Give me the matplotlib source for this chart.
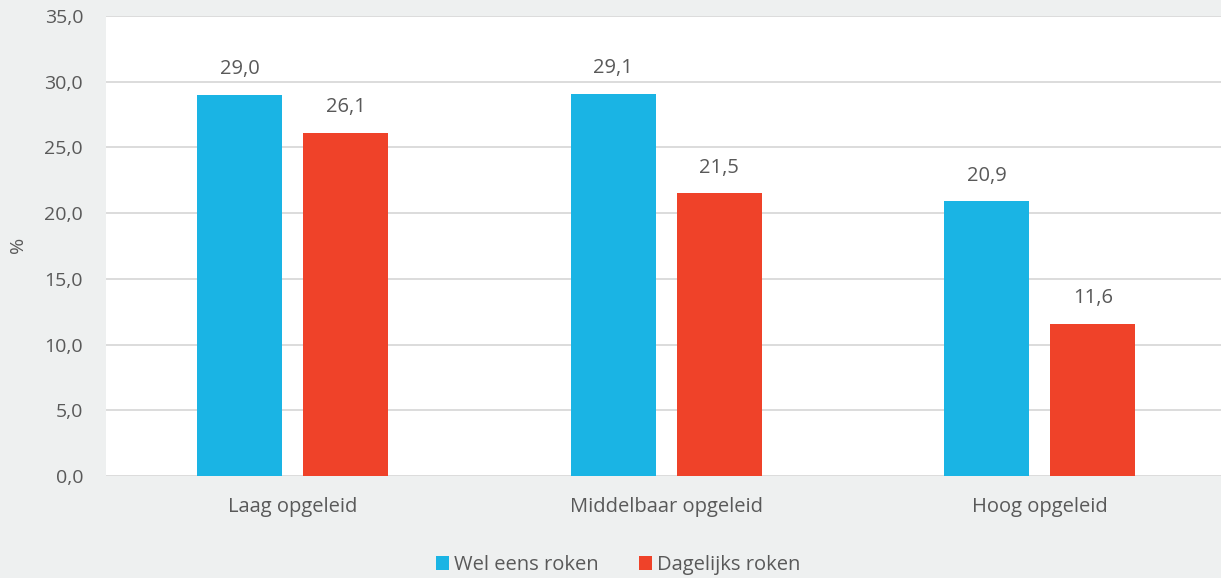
import matplotlib.pyplot as plt
import numpy as np

categories = ['Laag opgeleid', 'Middelbaar opgeleid', 'Hoog opgeleid']
wel_eens = [29.0, 29.1, 20.9]
dagelijks = [26.1, 21.5, 11.6]
series_names = ['Wel eens roken', 'Dagelijks roken']

blue = '#1ab4e4'
red = '#ef4229'
txt = '#595959'
bg = '#eef0f0'

plt.rcParams['font.family'] = ['Open Sans', 'DejaVu Sans']

fig = plt.figure(figsize=(12.21, 5.78), dpi=100, facecolor=bg)
ax = fig.add_axes([106 / 1221, 1 - 476 / 578, 1115 / 1221, 460 / 578])
ax.set_facecolor('white')

x = np.arange(len(categories))
w = 0.228
b1 = ax.bar(x - 0.142, wel_eens, w, color=blue, label=series_names[0], zorder=3)
b2 = ax.bar(x + 0.142, dagelijks, w, color=red, label=series_names[1], zorder=3)

for bars in (b1, b2):
    for r in bars:
        v = r.get_height()
        ax.text(r.get_x() + r.get_width() / 2, v + 1.2, f'{v:.1f}'.replace('.', ','),
                ha='center', va='bottom', fontsize=14.5, color=txt)

ax.set_xlim(-0.5, -0.5 + 1115 / 373.5)
ax.set_ylim(0, 35)
ax.set_yticks(np.arange(0, 36, 5))
ax.set_yticklabels([f'{t:.1f}'.replace('.', ',') for t in np.arange(0, 36, 5)])
ax.grid(axis='y', color='#d9d9d9', linewidth=1.3, zorder=0)
ax.set_xticks(x)
ax.set_xticklabels(categories)
ax.tick_params(length=0, labelsize=14.5, colors=txt)
ax.tick_params(axis='y', labelsize=14, pad=16.5)
ax.tick_params(axis='x', pad=15)
for s in ax.spines.values():
    s.set_visible(False)

fig.text(18 / 1221, 1 - 245 / 578, '%', rotation=90, ha='center', va='center',
         fontsize=14, color=txt)

fig.legend(handles=[b1, b2], loc='center', bbox_to_anchor=(618 / 1221, 1 - 565 / 578),
           ncol=2, frameon=False, fontsize=14.5, labelcolor=txt, handlelength=0.65,
           handleheight=0.65, handletextpad=0.25, columnspacing=2.0)

fig.savefig('out.png', dpi=100, facecolor=bg)
